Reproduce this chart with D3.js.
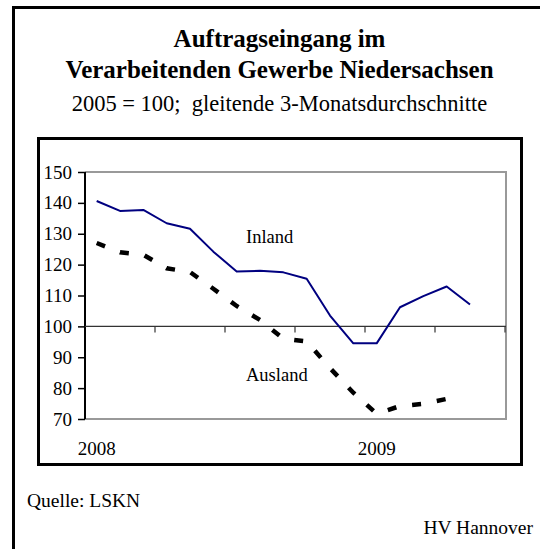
<!DOCTYPE html>
<meta charset="utf-8">
<style>
body { margin: 0; background: #fff; }
svg { display: block; font-family: "Liberation Serif", "Times New Roman", serif; }
</style>
<svg width="540" height="549"></svg>
<script src="https://cdn.jsdelivr.net/npm/d3@7"></script>
<script>

// Monate Jan 2008 - Jun 2009
var months = ["Jan08","Feb08","Mar08","Apr08","May08","Jun08","Jul08","Aug08","Sep08",
  "Oct08","Nov08","Dec08","Jan09","Feb09","Mar09","Apr09","May09","Jun09"];
var yearLabels = [["Jan08", "2008"], ["Jan09", "2009"]];
var quarterStarts = ["Apr08","Jul08","Oct08","Jan09","Apr09"];

var inland = [140.6, 137.4, 137.7, 133.4, 131.6, 124.2, 117.8, 118.0, 117.5,
  115.4, 103.5, 94.5, 94.5, 106.2, 109.8, 112.9, 107.1];
var ausland = [127.0, 124.0, 123.2, 118.8, 117.6, 112.2, 106.6, 102.1, 96.0,
  95.1, 86.5, 78.5, 71.7, 74.2, 74.9, 76.5];

var yTicks = [70, 80, 90, 100, 110, 120, 130, 140, 150];

var svg = d3.select("svg");

// outer frame (only left and top edges are visible)
svg.append("path")
  .attr("d", "M13.5,549V7.5H540")
  .attr("fill", "none")
  .attr("stroke", "#000")
  .attr("stroke-width", 3);

// titles
svg.append("text")
  .attr("x", 279.5).attr("y", 47)
  .attr("text-anchor", "middle")
  .attr("font-size", 25).attr("font-weight", "bold")
  .text("Auftragseingang im");
svg.append("text")
  .attr("x", 279.5).attr("y", 78)
  .attr("text-anchor", "middle")
  .attr("font-size", 25).attr("font-weight", "bold")
  .text("Verarbeitenden Gewerbe Niedersachsen");
svg.append("text")
  .attr("x", 279.5).attr("y", 111)
  .attr("text-anchor", "middle")
  .attr("font-size", 22.5)
  .style("white-space", "pre")
  .text("2005 = 100;  gleitende 3-Monatsdurchschnitte");

// chart box
svg.append("rect")
  .attr("x", 38.5).attr("y", 138.5)
  .attr("width", 483).attr("height", 326)
  .attr("fill", "none")
  .attr("stroke", "#000")
  .attr("stroke-width", 3);

var x = d3.scaleBand()
  .domain(months)
  .range([85, 505]);

var y = d3.scaleLinear()
  .domain([70, 150])
  .range([419, 172]);

function cx(m) { return x(m) + x.bandwidth() / 2; }

// plot area border
svg.append("path")
  .attr("d", "M85," + y(150) + "H506V" + y(70) + "H85")
  .attr("fill", "none")
  .attr("stroke", "#999")
  .attr("stroke-width", 2);

// y axis
var yAxis = svg.append("g")
  .attr("transform", "translate(85,0)")
  .call(d3.axisLeft(y).tickValues(yTicks).tickSize(7).tickPadding(6));
yAxis.select(".domain").attr("stroke", "#000").attr("stroke-width", 2).attr("d", "M0," + y(150) + "V" + y(70));
yAxis.selectAll(".tick line").attr("stroke-width", 1.5);
yAxis.selectAll(".tick text")
  .attr("font-family", "Liberation Serif")
  .attr("font-size", 19)
  .attr("fill", "#000");

// x axis on the 100 line
var xAxis = svg.append("g")
  .attr("transform", "translate(0," + y(100) + ")");
xAxis.append("line")
  .attr("x1", 85).attr("x2", 506)
  .attr("stroke", "#333").attr("stroke-width", 1.2);
xAxis.selectAll(".qtick")
  .data(quarterStarts.concat(["end"]))
  .enter().append("line")
  .attr("x1", function(d) { return d === "end" ? 505 : x(d); })
  .attr("x2", function(d) { return d === "end" ? 505 : x(d); })
  .attr("y1", 0).attr("y2", 6)
  .attr("stroke", "#333").attr("stroke-width", 1.2);

svg.selectAll(".year")
  .data(yearLabels)
  .enter().append("text")
  .attr("x", function(d) { return cx(d[0]); })
  .attr("y", 455)
  .attr("text-anchor", "middle")
  .attr("font-size", 19)
  .text(function(d) { return d[1]; });

// lines
var line = d3.line()
  .x(function(d, i) { return cx(months[i]); })
  .y(function(d) { return y(d); });

svg.append("path")
  .datum(inland)
  .attr("d", line)
  .attr("fill", "none")
  .attr("stroke", "#000080")
  .attr("stroke-width", 2)
  .attr("stroke-linejoin", "round");

svg.append("path")
  .datum(ausland)
  .attr("d", line)
  .attr("fill", "none")
  .attr("stroke", "#000")
  .attr("stroke-width", 4.5)
  .attr("stroke-dasharray", "9,16");

svg.append("text")
  .attr("x", 246).attr("y", 243)
  .attr("font-size", 18.5)
  .text("Inland");
svg.append("text")
  .attr("x", 246).attr("y", 381)
  .attr("font-size", 18.5)
  .text("Ausland");

// footer
svg.append("text")
  .attr("x", 27).attr("y", 507)
  .attr("font-size", 19.5)
  .text("Quelle: LSKN");
svg.append("text")
  .attr("x", 533).attr("y", 534)
  .attr("text-anchor", "end")
  .attr("font-size", 19.5)
  .text("HV Hannover");

</script>
